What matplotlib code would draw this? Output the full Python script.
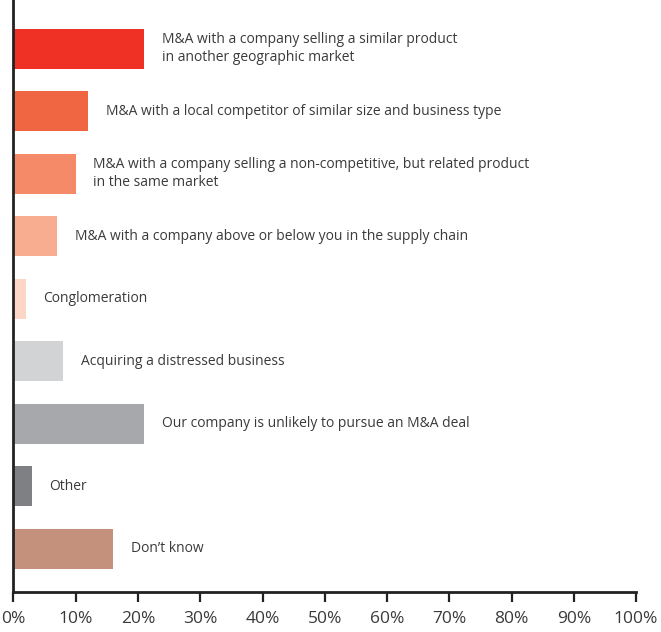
import matplotlib.pyplot as plt

# M&A approaches, share of respondents (%)
labels = [
    "M&A with a company selling a similar product\nin another geographic market",
    "M&A with a local competitor of similar size and business type",
    "M&A with a company selling a non-competitive, but related product\nin the same market",
    "M&A with a company above or below you in the supply chain",
    "Conglomeration",
    "Acquiring a distressed business",
    "Our company is unlikely to pursue an M&A deal",
    "Other",
    "Don\u2019t know",
]
values = [21, 12, 10, 7, 2, 8, 21, 3, 16]
colors = ["#EE3124", "#F06642", "#F48A68", "#F8AD90", "#FDD6C7",
          "#D2D3D5", "#A7A8AB", "#7F8084", "#C4917C"]
ticks = list(range(0, 101, 10))

plt.rcParams['font.family'] = ['Open Sans', 'DejaVu Sans']
text_color = "#3a3a3a"

fig = plt.figure(figsize=(6.61, 6.32), dpi=100)
ax = fig.add_axes([13.5 / 661, 40 / 632, (636 - 13.5) / 661, 592 / 632])

pos = list(range(len(values)))
ax.barh(pos, values, height=0.64, color=colors, zorder=2)
for y, v, lab in zip(pos, values, labels):
    ax.text(v + 2.8, y, lab, va="center", ha="left", fontsize=10,
            color=text_color, linespacing=1.3)

ax.set_xlim(0, 100)
ax.set_ylim(8.69, -0.78)
ax.set_xticks(ticks)
ax.set_xticklabels([f"{t}%" for t in ticks], fontsize=12.5, color=text_color)
ax.set_yticks([])
ax.tick_params(axis="x", direction="out", length=7, width=1.6,
               color="#222222", pad=7)

for side in ("top", "right"):
    ax.spines[side].set_visible(False)
for side in ("left", "bottom"):
    ax.spines[side].set_linewidth(2)
    ax.spines[side].set_color("#222222")

fig.savefig("out.png", dpi=100)
